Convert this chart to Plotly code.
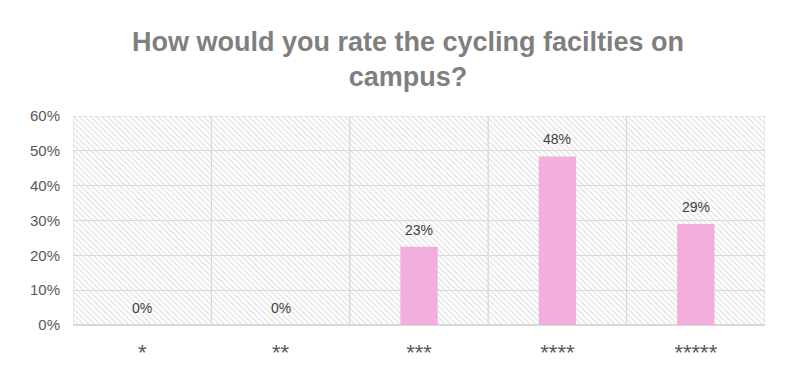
import plotly.graph_objects as go

categories = ["*", "**", "***", "****", "*****"]
values = [0.0, 0.0, 0.225, 0.484, 0.29]
labels = ["0%", "0%", "23%", "48%", "29%"]
y_max = 0.6
y_ticks = [0, 0.1, 0.2, 0.3, 0.4, 0.5, 0.6]

FONT = "Liberation Sans, Arial, sans-serif"

fig = go.Figure()

# hatched background cells
fig.add_trace(go.Bar(
    x=categories, y=[y_max] * len(categories), width=1,
    marker=dict(color="rgba(0,0,0,0)", line=dict(color="#d9d9d9", width=1),
                pattern=dict(shape="\\", size=4, solidity=0.25, fgcolor="#d9d9d9",
                             bgcolor="rgba(0,0,0,0)", fillmode="replace")),
    hoverinfo="skip", showlegend=False,
))

fig.add_trace(go.Bar(
    x=categories, y=values, width=0.27,
    marker=dict(color="#f2afdb", line=dict(width=0)),
    showlegend=False,
))

for c, v, t in zip(categories, values, labels):
    fig.add_annotation(x=c, y=v, text=t, showarrow=False, yanchor="bottom",
                       yshift=7, font=dict(family=FONT, size=14, color="#404040"))

fig.update_layout(
    width=800, height=387,
    barmode="overlay",
    paper_bgcolor="white", plot_bgcolor="white",
    margin=dict(l=65, r=43, t=108, b=70),
    title=dict(text="<b>How would you rate the cycling facilties on<br>campus?</b>",
               x=0.5, xanchor="center", y=0.89, yanchor="top",
               font=dict(family=FONT, size=27, color="#7f7f7f")),
    font=dict(family=FONT, color="#595959"),
    xaxis=dict(showgrid=False, showline=False, ticks="", ticklabelstandoff=12,
               tickfont=dict(size=22, color="#595959")),
    yaxis=dict(range=[0, y_max], tickvals=y_ticks, tickformat=".0%",
               showgrid=True, gridcolor="#d9d9d9", gridwidth=1,
               zeroline=True, zerolinecolor="#d9d9d9", showline=False,
               ticklabelstandoff=12, tickfont=dict(size=15, color="#595959")),
)

fig.write_html("out.html")
